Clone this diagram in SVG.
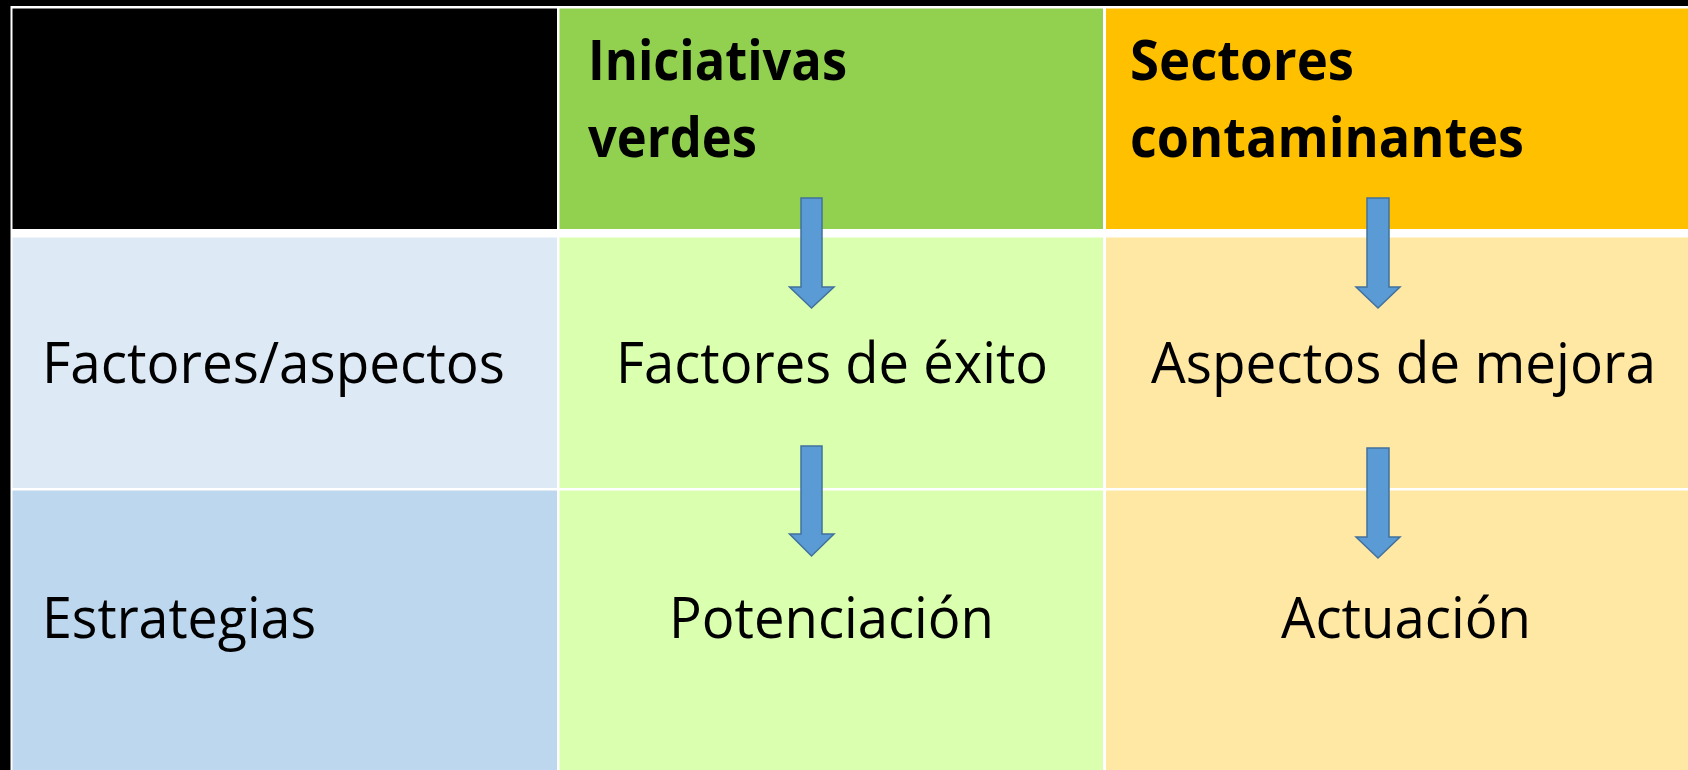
<svg xmlns="http://www.w3.org/2000/svg" width="1688" height="770" viewBox="0 0 1688 770">
  <style>
    .hd { font-family: "Open Sans", "Noto Sans", "Liberation Sans", sans-serif; font-weight: bold; font-size: 56px; fill: #000; }
    .bd { font-family: "Open Sans", "Noto Sans", "Liberation Sans", sans-serif; font-size: 56px; fill: #000; }
    .arrow { fill: #5B9BD5; stroke: #41719C; stroke-width: 1.5; stroke-linejoin: miter; }
  </style>
  <rect x="0" y="0" width="1688" height="770" fill="#000"/>
  <rect x="10.5" y="6" width="1680" height="770" fill="#FFFFFF"/>

  <g id="cell-corner">
    <rect x="12.5" y="8.5" width="544.5" height="220.5" fill="#000"/>
  </g>
  <g id="cell-iniciativas">
    <rect x="559.5" y="8.5" width="543.5" height="220.5" fill="#92D050"/>
    <text class="hd" x="588" y="80" textLength="259" lengthAdjust="spacingAndGlyphs">Iniciativas</text>
    <text class="hd" x="588" y="157" textLength="169" lengthAdjust="spacingAndGlyphs">verdes</text>
  </g>
  <g id="cell-sectores">
    <rect x="1106" y="8.5" width="590" height="220.5" fill="#FFC000"/>
    <text class="hd" x="1130" y="80" textLength="224" lengthAdjust="spacingAndGlyphs">Sectores</text>
    <text class="hd" x="1130" y="157" textLength="394" lengthAdjust="spacingAndGlyphs">contaminantes</text>
  </g>

  <g id="cell-factores-aspectos">
    <rect x="12.5" y="237.5" width="544.5" height="250.5" fill="#DDEAF6"/>
    <text class="bd" x="42" y="383" textLength="463" lengthAdjust="spacingAndGlyphs">Factores/aspectos</text>
  </g>
  <g id="cell-factores-exito">
    <rect x="559.5" y="237.5" width="543.5" height="250.5" fill="#DAFFAF"/>
    <text class="bd" x="832" y="383" text-anchor="middle" textLength="432" lengthAdjust="spacingAndGlyphs">Factores de éxito</text>
  </g>
  <g id="cell-aspectos-mejora">
    <rect x="1106" y="237.5" width="590" height="250.5" fill="#FFE7A4"/>
    <text class="bd" x="1403.5" y="383" text-anchor="middle" textLength="505" lengthAdjust="spacingAndGlyphs">Aspectos de mejora</text>
  </g>

  <g id="cell-estrategias">
    <rect x="12.5" y="490.5" width="544.5" height="285" fill="#BDD7EE"/>
    <text class="bd" x="42" y="638" textLength="274" lengthAdjust="spacingAndGlyphs">Estrategias</text>
  </g>
  <g id="cell-potenciacion">
    <rect x="559.5" y="490.5" width="543.5" height="285" fill="#DAFFAF"/>
    <text class="bd" x="831.5" y="638" text-anchor="middle" textLength="325" lengthAdjust="spacingAndGlyphs">Potenciación</text>
  </g>
  <g id="cell-actuacion">
    <rect x="1106" y="490.5" width="590" height="285" fill="#FFE7A4"/>
    <text class="bd" x="1406" y="638" text-anchor="middle" textLength="250" lengthAdjust="spacingAndGlyphs">Actuación</text>
  </g>

  <g id="connectors">
    <path class="arrow" d="M801,198 H822 V287 H834 L811.5,308 L789.5,287 H801 Z"/>
    <path class="arrow" d="M801,446 H822 V534 H834 L811.5,556 L789.5,534 H801 Z"/>
    <path class="arrow" d="M1367,198 H1389 V287 H1400 L1378,308 L1356,287 H1367 Z"/>
    <path class="arrow" d="M1367,448 H1389 V537 H1400 L1378,558 L1356,537 H1367 Z"/>
  </g>
</svg>
